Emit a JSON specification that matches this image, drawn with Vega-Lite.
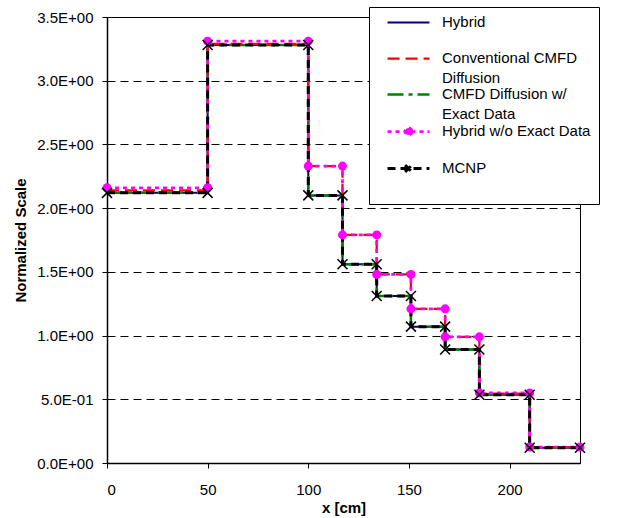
{
  "$schema": "https://vega.github.io/schema/vega-lite/v6.json",
  "width": 473,
  "height": 446,
  "autosize": "none",
  "padding": {"left": 107, "top": 17, "right": 41, "bottom": 55},
  "background": "white",
  "config": {
    "view": {"stroke": "black", "strokeWidth": 1},
    "axis": {"labelFont": "Liberation Sans", "labelFontSize": 15, "labelColor": "black", "titleFont": "Liberation Sans", "titleFontSize": 15, "titleFontWeight": "bold", "titleColor": "black", "domainColor": "black", "domainWidth": 1.5, "tickColor": "black", "tickSize": 5, "tickWidth": 1},
    "legend": {
      "orient": "none", "legendX": 262, "legendY": -10,
      "symbolType": "M-4,0H4", "symbolSize": 110, "symbolStrokeWidth": 3,
      "labelFont": "Liberation Sans", "labelFontSize": 15, "labelColor": "black",
      "labelBaseline": "top", "labelLimit": 300,
      "rowPadding": 0, "padding": 8, "fillColor": "white", "strokeColor": "black"
    }
  },
  "data": {"values": [
    {"series": "Hybrid", "i": 0, "x": 0, "y": 2.12}, {"series": "Hybrid", "i": 1, "x": 50, "y": 2.12},
    {"series": "Hybrid", "i": 2, "x": 50, "y": 3.28}, {"series": "Hybrid", "i": 3, "x": 100, "y": 3.28},
    {"series": "Hybrid", "i": 4, "x": 100, "y": 2.1}, {"series": "Hybrid", "i": 5, "x": 117, "y": 2.1},
    {"series": "Hybrid", "i": 6, "x": 117, "y": 1.56}, {"series": "Hybrid", "i": 7, "x": 134, "y": 1.56},
    {"series": "Hybrid", "i": 8, "x": 134, "y": 1.31}, {"series": "Hybrid", "i": 9, "x": 151, "y": 1.31},
    {"series": "Hybrid", "i": 10, "x": 151, "y": 1.07}, {"series": "Hybrid", "i": 11, "x": 168, "y": 1.07},
    {"series": "Hybrid", "i": 12, "x": 168, "y": 0.89}, {"series": "Hybrid", "i": 13, "x": 185, "y": 0.89},
    {"series": "Hybrid", "i": 14, "x": 185, "y": 0.535}, {"series": "Hybrid", "i": 15, "x": 210, "y": 0.535},
    {"series": "Hybrid", "i": 16, "x": 210, "y": 0.12}, {"series": "Hybrid", "i": 17, "x": 235, "y": 0.12},

    {"series": "CMFD Diffusion w/ Exact Data", "i": 0, "x": 0, "y": 2.12}, {"series": "CMFD Diffusion w/ Exact Data", "i": 1, "x": 50, "y": 2.12},
    {"series": "CMFD Diffusion w/ Exact Data", "i": 2, "x": 50, "y": 3.28}, {"series": "CMFD Diffusion w/ Exact Data", "i": 3, "x": 100, "y": 3.28},
    {"series": "CMFD Diffusion w/ Exact Data", "i": 4, "x": 100, "y": 2.1}, {"series": "CMFD Diffusion w/ Exact Data", "i": 5, "x": 117, "y": 2.1},
    {"series": "CMFD Diffusion w/ Exact Data", "i": 6, "x": 117, "y": 1.56}, {"series": "CMFD Diffusion w/ Exact Data", "i": 7, "x": 134, "y": 1.56},
    {"series": "CMFD Diffusion w/ Exact Data", "i": 8, "x": 134, "y": 1.31}, {"series": "CMFD Diffusion w/ Exact Data", "i": 9, "x": 151, "y": 1.31},
    {"series": "CMFD Diffusion w/ Exact Data", "i": 10, "x": 151, "y": 1.07}, {"series": "CMFD Diffusion w/ Exact Data", "i": 11, "x": 168, "y": 1.07},
    {"series": "CMFD Diffusion w/ Exact Data", "i": 12, "x": 168, "y": 0.89}, {"series": "CMFD Diffusion w/ Exact Data", "i": 13, "x": 185, "y": 0.89},
    {"series": "CMFD Diffusion w/ Exact Data", "i": 14, "x": 185, "y": 0.535}, {"series": "CMFD Diffusion w/ Exact Data", "i": 15, "x": 210, "y": 0.535},
    {"series": "CMFD Diffusion w/ Exact Data", "i": 16, "x": 210, "y": 0.12}, {"series": "CMFD Diffusion w/ Exact Data", "i": 17, "x": 235, "y": 0.12},

    {"series": "Conventional CMFD Diffusion", "i": 0, "x": 0, "y": 2.14}, {"series": "Conventional CMFD Diffusion", "i": 1, "x": 50, "y": 2.14},
    {"series": "Conventional CMFD Diffusion", "i": 2, "x": 50, "y": 3.29}, {"series": "Conventional CMFD Diffusion", "i": 3, "x": 100, "y": 3.29},
    {"series": "Conventional CMFD Diffusion", "i": 4, "x": 100, "y": 2.33}, {"series": "Conventional CMFD Diffusion", "i": 5, "x": 117, "y": 2.33},
    {"series": "Conventional CMFD Diffusion", "i": 6, "x": 117, "y": 1.79}, {"series": "Conventional CMFD Diffusion", "i": 7, "x": 134, "y": 1.79},
    {"series": "Conventional CMFD Diffusion", "i": 8, "x": 134, "y": 1.48}, {"series": "Conventional CMFD Diffusion", "i": 9, "x": 151, "y": 1.48},
    {"series": "Conventional CMFD Diffusion", "i": 10, "x": 151, "y": 1.21}, {"series": "Conventional CMFD Diffusion", "i": 11, "x": 168, "y": 1.21},
    {"series": "Conventional CMFD Diffusion", "i": 12, "x": 168, "y": 0.99}, {"series": "Conventional CMFD Diffusion", "i": 13, "x": 185, "y": 0.99},
    {"series": "Conventional CMFD Diffusion", "i": 14, "x": 185, "y": 0.545}, {"series": "Conventional CMFD Diffusion", "i": 15, "x": 210, "y": 0.545},
    {"series": "Conventional CMFD Diffusion", "i": 16, "x": 210, "y": 0.125}, {"series": "Conventional CMFD Diffusion", "i": 17, "x": 235, "y": 0.125},

    {"series": "Hybrid w/o Exact Data", "i": 0, "x": 0, "y": 2.16}, {"series": "Hybrid w/o Exact Data", "i": 1, "x": 50, "y": 2.16},
    {"series": "Hybrid w/o Exact Data", "i": 2, "x": 50, "y": 3.31}, {"series": "Hybrid w/o Exact Data", "i": 3, "x": 100, "y": 3.31},
    {"series": "Hybrid w/o Exact Data", "i": 4, "x": 100, "y": 2.33}, {"series": "Hybrid w/o Exact Data", "i": 5, "x": 117, "y": 2.33},
    {"series": "Hybrid w/o Exact Data", "i": 6, "x": 117, "y": 1.79}, {"series": "Hybrid w/o Exact Data", "i": 7, "x": 134, "y": 1.79},
    {"series": "Hybrid w/o Exact Data", "i": 8, "x": 134, "y": 1.48}, {"series": "Hybrid w/o Exact Data", "i": 9, "x": 151, "y": 1.48},
    {"series": "Hybrid w/o Exact Data", "i": 10, "x": 151, "y": 1.21}, {"series": "Hybrid w/o Exact Data", "i": 11, "x": 168, "y": 1.21},
    {"series": "Hybrid w/o Exact Data", "i": 12, "x": 168, "y": 0.99}, {"series": "Hybrid w/o Exact Data", "i": 13, "x": 185, "y": 0.99},
    {"series": "Hybrid w/o Exact Data", "i": 14, "x": 185, "y": 0.55}, {"series": "Hybrid w/o Exact Data", "i": 15, "x": 210, "y": 0.55},
    {"series": "Hybrid w/o Exact Data", "i": 16, "x": 210, "y": 0.125}, {"series": "Hybrid w/o Exact Data", "i": 17, "x": 235, "y": 0.125},

    {"series": "MCNP", "i": 0, "x": 0, "y": 2.12}, {"series": "MCNP", "i": 1, "x": 50, "y": 2.12},
    {"series": "MCNP", "i": 2, "x": 50, "y": 3.28}, {"series": "MCNP", "i": 3, "x": 100, "y": 3.28},
    {"series": "MCNP", "i": 4, "x": 100, "y": 2.1}, {"series": "MCNP", "i": 5, "x": 117, "y": 2.1},
    {"series": "MCNP", "i": 6, "x": 117, "y": 1.56}, {"series": "MCNP", "i": 7, "x": 134, "y": 1.56},
    {"series": "MCNP", "i": 8, "x": 134, "y": 1.31}, {"series": "MCNP", "i": 9, "x": 151, "y": 1.31},
    {"series": "MCNP", "i": 10, "x": 151, "y": 1.07}, {"series": "MCNP", "i": 11, "x": 168, "y": 1.07},
    {"series": "MCNP", "i": 12, "x": 168, "y": 0.89}, {"series": "MCNP", "i": 13, "x": 185, "y": 0.89},
    {"series": "MCNP", "i": 14, "x": 185, "y": 0.535}, {"series": "MCNP", "i": 15, "x": 210, "y": 0.535},
    {"series": "MCNP", "i": 16, "x": 210, "y": 0.12}, {"series": "MCNP", "i": 17, "x": 235, "y": 0.12}
  ]},
  "encoding": {
    "x": {"field": "x", "type": "quantitative", "title": "x [cm]",
      "scale": {"domain": [0, 235], "nice": false, "zero": false},
      "axis": {"values": [0, 50, 100, 150, 200], "grid": false, "labelPadding": 14, "titlePadding": 3}},
    "y": {"field": "y", "type": "quantitative", "title": "Normalized Scale",
      "scale": {"domain": [0, 3.5], "nice": false},
      "axis": {"values": [0, 0.5, 1, 1.5, 2, 2.5, 3, 3.5], "grid": true, "gridColor": "black", "gridDash": [8, 5], "gridWidth": 1,
        "labelPadding": 9, "titlePadding": 8,
        "labelExpr": "replace(replace(upper(format(datum.value, '.1e')), 'E+', 'E+0'), 'E-', 'E-0')"}}
  },
  "layer": [
    {
      "mark": {"type": "line", "interpolate": "linear"},
      "encoding": {
        "order": {"field": "i", "type": "quantitative"},
        "color": {"field": "series", "type": "nominal",
          "scale": {"domain": ["Hybrid", "Conventional CMFD Diffusion", "CMFD Diffusion w/ Exact Data", "Hybrid w/o Exact Data", "MCNP"],
                    "range": ["#000080", "#FF0000", "#008000", "#FF00FF", "#000000"]},
          "legend": {"title": null,
            "labelExpr": "datum.label == 'Conventional CMFD Diffusion' ? ['Conventional CMFD', 'Diffusion'] : datum.label == 'CMFD Diffusion w/ Exact Data' ? ['CMFD Diffusion w/', 'Exact Data'] : [datum.label, ' ']",
            "labelOffset": 26,
            "symbolOffset": 24,
            "symbolSize": 110,
            "labelBaseline": "top",
            "encode": {
              "labels": {"update": {"dy": {"value": -8}, "lineHeight": {"value": 20}}},
              "symbols": {"update": {
                "shape": {"signal": "datum.value == 'Hybrid w/o Exact Data' ? 'M-4,0H4M0.65,0A0.65,0.65 0 1,1 -0.65,0A0.65,0.65 0 1,1 0.65,0Z' : datum.value == 'MCNP' ? 'M-4,0H4M-0.65,-0.65L0.65,0.65M-0.65,0.65L0.65,-0.65' : 'M-4,0H4'"},
                "fill": {"signal": "datum.value == 'Hybrid w/o Exact Data' ? '#FF00FF' : 'transparent'"}
              }}
            }}},
        "strokeDash": {"field": "series", "type": "nominal",
          "scale": {"domain": ["Hybrid", "Conventional CMFD Diffusion", "CMFD Diffusion w/ Exact Data", "Hybrid w/o Exact Data", "MCNP"],
                    "range": [[1, 0], [12, 6], [16, 5, 4, 5], [4, 4], [8, 5]]},
          "legend": {"title": null}},
        "strokeWidth": {"field": "series", "type": "nominal",
          "scale": {"domain": ["Hybrid", "Conventional CMFD Diffusion", "CMFD Diffusion w/ Exact Data", "Hybrid w/o Exact Data", "MCNP"],
                    "range": [2, 3, 3, 2, 3]},
          "legend": null}
      }
    },
    {
      "transform": [{"filter": "datum.series == 'Hybrid w/o Exact Data'"}],
      "mark": {"type": "point", "shape": "circle", "filled": true, "color": "#FF00FF", "size": 80, "opacity": 1}
    },
    {
      "transform": [{"filter": "datum.series == 'MCNP'"}],
      "mark": {"type": "point", "shape": "M-1,-1L1,1M-1,1L1,-1", "filled": false, "stroke": "#000000", "strokeWidth": 1.5, "size": 100, "opacity": 1}
    }
  ]
}
